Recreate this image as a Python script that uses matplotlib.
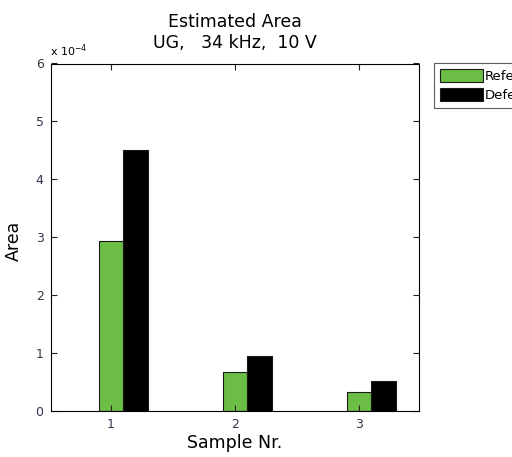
import numpy as np
import matplotlib.pyplot as plt
from matplotlib.ticker import FuncFormatter, FixedLocator

plt.rcParams['font.family'] = ['DejaVu Sans']

# Data
samples = [1, 2, 3]
area_ref = [2.94e-4, 0.67e-4, 0.33e-4]
area_def = [4.50e-4, 0.95e-4, 0.52e-4]
series_names = ['Reference', 'Defect']

COLOR_REF = '#6bbd45'
COLOR_DEF = '#000000'

fig = plt.figure(figsize=(5.12, 4.57), dpi=100)
ax = fig.add_axes([50.5 / 512, 1 - 411 / 457, 368.5 / 512, 347.5 / 457])

x = np.array(samples)
width = 0.2
# green bar sits on the tick, black bar right next to it (as in the original)
b1 = ax.bar(x, area_ref, width, color=COLOR_REF,
            edgecolor='#1a1a1a', linewidth=0.8, label=series_names[0])
b2 = ax.bar(x + width, area_def, width, color=COLOR_DEF,
            edgecolor='#1a1a1a', linewidth=0.8, label=series_names[1])

ax.set_xlim(0.512, 3.484)
ax.set_ylim(0, 6e-4)
ax.xaxis.set_major_locator(FixedLocator(samples))
ax.yaxis.set_major_locator(FixedLocator(np.arange(0, 7) * 1e-4))
ax.yaxis.set_major_formatter(FuncFormatter(lambda v, p: f'{v * 1e4:.0f}'))
ax.tick_params(direction='in', top=True, right=True, length=4,
               labelsize=9, colors='#222222', labelcolor='#34344a', pad=5)

for s in ax.spines.values():
    s.set_linewidth(0.8)

ax.text(0.0, 1.012, r'x 10$^{-4}$', transform=ax.transAxes, fontsize=8,
        ha='left', va='bottom')

ax.set_title('Estimated Area\nUG,   34 kHz,  10 V', fontsize=12.5, pad=11,
             linespacing=1.25)
ax.set_xlabel('Sample Nr.', fontsize=12.5, labelpad=2)
ax.set_ylabel('Area', fontsize=12.5)
ax.yaxis.set_label_coords(-0.074, 0.49)

leg = fig.legend(handles=[b1, b2], loc='upper left',
                 bbox_to_anchor=(434 / 512, 1 - 63 / 457),
                 fontsize=9.5, frameon=True, fancybox=False,
                 handlelength=3.3, handleheight=1.15, handletextpad=0.1,
                 borderpad=0.45, labelspacing=0.38, borderaxespad=0)
leg.get_frame().set_edgecolor('#333333')
leg.get_frame().set_linewidth(0.8)

fig.savefig('out.png', dpi=100)
